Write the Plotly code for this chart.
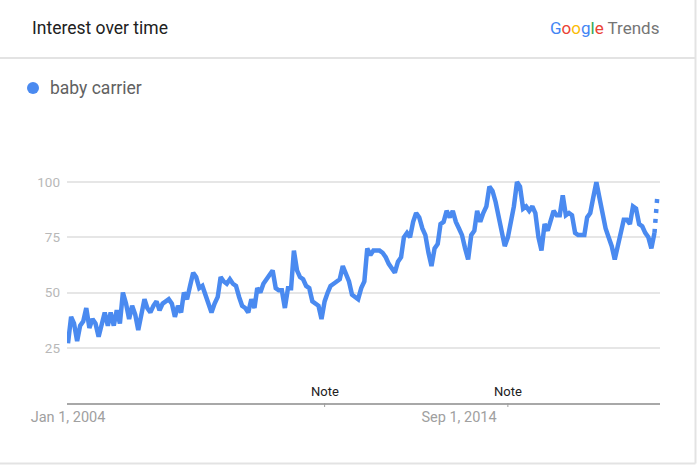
import pandas as pd
import plotly.graph_objects as go

# ---- data (monthly interest, Jan 2004 onward) ----
series_name = "baby carrier"
values = [
    27, 39, 36, 28, 35, 37, 43, 34, 38, 36, 30, 36,   # 2004
    41, 35, 41, 35, 42, 36, 50, 45, 38, 44, 40, 33,   # 2005
    39, 47, 43, 41, 44, 46, 42, 45, 46, 47, 45, 39,   # 2006
    44, 41, 50, 47, 53, 59, 57, 52, 53, 49, 45, 41,   # 2007
    45, 48, 57, 55, 54, 56, 54, 53, 48, 44, 43, 41,   # 2008
    47, 43, 52, 50, 54, 56, 58, 60, 52, 51, 51, 43,   # 2009
    52, 52, 69, 60, 57, 56, 53, 52, 46, 45, 44, 38,   # 2010
    46, 50, 53, 54, 55, 56, 62, 59, 55, 49, 48, 47,   # 2011
    52, 55, 70, 67, 69, 69, 69, 68, 66, 63, 61, 59,   # 2012
    64, 66, 75, 77, 75, 82, 86, 84, 79, 76, 68, 62,   # 2013
    70, 72, 81, 82, 87, 84, 87, 82, 79, 76, 70, 65,   # 2014
    76, 78, 87, 82, 86, 89, 98, 96, 91, 84, 77, 71,   # 2015
    75, 82, 89, 100, 98, 88, 89, 87, 89, 86, 75, 69,  # 2016
    81, 78, 83, 87, 85, 85, 94, 85, 86, 85, 77, 76,   # 2017
    76, 76, 84, 86, 93, 100, 93, 86, 79, 75, 71, 65,  # 2018
    72, 78, 83, 83, 81, 89, 88, 81, 80, 77, 75, 70,   # 2019
    77,                                               # 2020 (complete)
]
partial_value = 95  # latest, incomplete month (dotted)
dates = pd.date_range("2004-01-01", periods=len(values) + 1, freq="MS")

y_ticks = [25, 50, 75, 100]
x_tick_dates = ["2004-01-01", "2014-09-01"]
x_tick_labels = ["Jan 1, 2004", "Sep 1, 2014"]
note_dates = ["2011-01-01", "2016-01-01"]

BLUE = "#4a8af0"
FONT = "Roboto, Arial, sans-serif"

# ---- layout geometry (pixels) ----
W, H = 698, 465
L, R, T, B = 67, 38, 160, 62
PW, PH = W - L - R, H - T - B


def px(x):
    return (x - L) / PW


def py(y):
    return (H - B - y) / PH


fig = go.Figure()
fig.add_trace(go.Scatter(
    x=dates[:len(values)], y=values, mode="lines",
    line=dict(color=BLUE, width=4.5), name=series_name, showlegend=False,
    hoverinfo="x+y",
))
fig.add_trace(go.Scatter(
    x=dates[len(values) - 1:], y=[values[-1], partial_value], mode="lines",
    line=dict(color=BLUE, width=4.5, dash="4px,6px"), showlegend=False,
    hoverinfo="x+y",
))

shapes = [
    # header divider
    dict(type="line", xref="paper", yref="paper", x0=px(0), x1=px(695), y0=py(58), y1=py(58),
         line=dict(color="#e3e3e3", width=2)),
    # card right border
    dict(type="line", xref="paper", yref="paper", x0=px(695.5), x1=px(695.5), y0=py(0), y1=py(463.5),
         line=dict(color="#e3e3e3", width=2)),
    # card bottom border
    dict(type="line", xref="paper", yref="paper", x0=px(0), x1=px(695.5), y0=py(463.5), y1=py(463.5),
         line=dict(color="#e3e3e3", width=2)),
    # legend dot
    dict(type="circle", xref="paper", yref="paper", x0=px(27), x1=px(39), y0=py(94), y1=py(82),
         fillcolor=BLUE, line=dict(width=0)),
]
for d in note_dates:
    shapes.append(dict(type="line", xref="x", yref="paper", x0=d, x1=d, y0=0, y1=py(407),
                       line=dict(color="#9e9e9e", width=1)))

annotations = [
    dict(text="Interest over time", xref="paper", yref="paper", x=px(30), y=py(28),
         xanchor="left", yanchor="middle", showarrow=False,
         font=dict(family=FONT, size=17.5, color="#212121")),
    dict(text=("<span style='color:#4285F4'>G</span><span style='color:#EA4335'>o</span>"
               "<span style='color:#FBBC05'>o</span><span style='color:#4285F4'>g</span>"
               "<span style='color:#34A853'>l</span><span style='color:#EA4335'>e</span>"
               "<span style='color:#757575'> Trends</span>"),
         xref="paper", yref="paper", x=px(661), y=py(28),
         xanchor="right", yanchor="middle", showarrow=False,
         font=dict(family=FONT, size=17, color="#757575")),
    dict(text=series_name, xref="paper", yref="paper", x=px(48), y=py(88),
         xanchor="left", yanchor="middle", showarrow=False,
         font=dict(family=FONT, size=17.5, color="#616161")),
]
for d in note_dates:
    annotations.append(dict(text="Note", xref="x", yref="paper", x=d, y=py(391),
                            xanchor="center", yanchor="middle", showarrow=False,
                            font=dict(family=FONT, size=13, color="#212121")))

fig.update_layout(
    width=W, height=H,
    margin=dict(l=L, r=R, t=T, b=B),
    paper_bgcolor="white", plot_bgcolor="white",
    font=dict(family=FONT),
    shapes=shapes, annotations=annotations,
    xaxis=dict(
        type="date", range=["2003-12-22", "2020-02-25"],
        tickvals=x_tick_dates, ticktext=x_tick_labels,
        showgrid=False, zeroline=False,
        showline=True, linecolor="#a8a8a8", linewidth=2,
        ticks="", ticklabelstandoff=0,
        tickfont=dict(family=FONT, size=14.5, color="#a0a0a0"),
        fixedrange=True,
    ),
    yaxis=dict(
        range=[0, 110], tickvals=y_ticks,
        showgrid=True, gridcolor="#e6e6e6", gridwidth=1.5,
        zeroline=False, showline=False, ticks="",
        ticklabelstandoff=6,
        tickfont=dict(family=FONT, size=13.5, color="#b8b8b8"),
        fixedrange=True,
    ),
)

fig.write_html("out.html", config={"displayModeBar": False},
               post_script="document.body.style.margin='0';")
